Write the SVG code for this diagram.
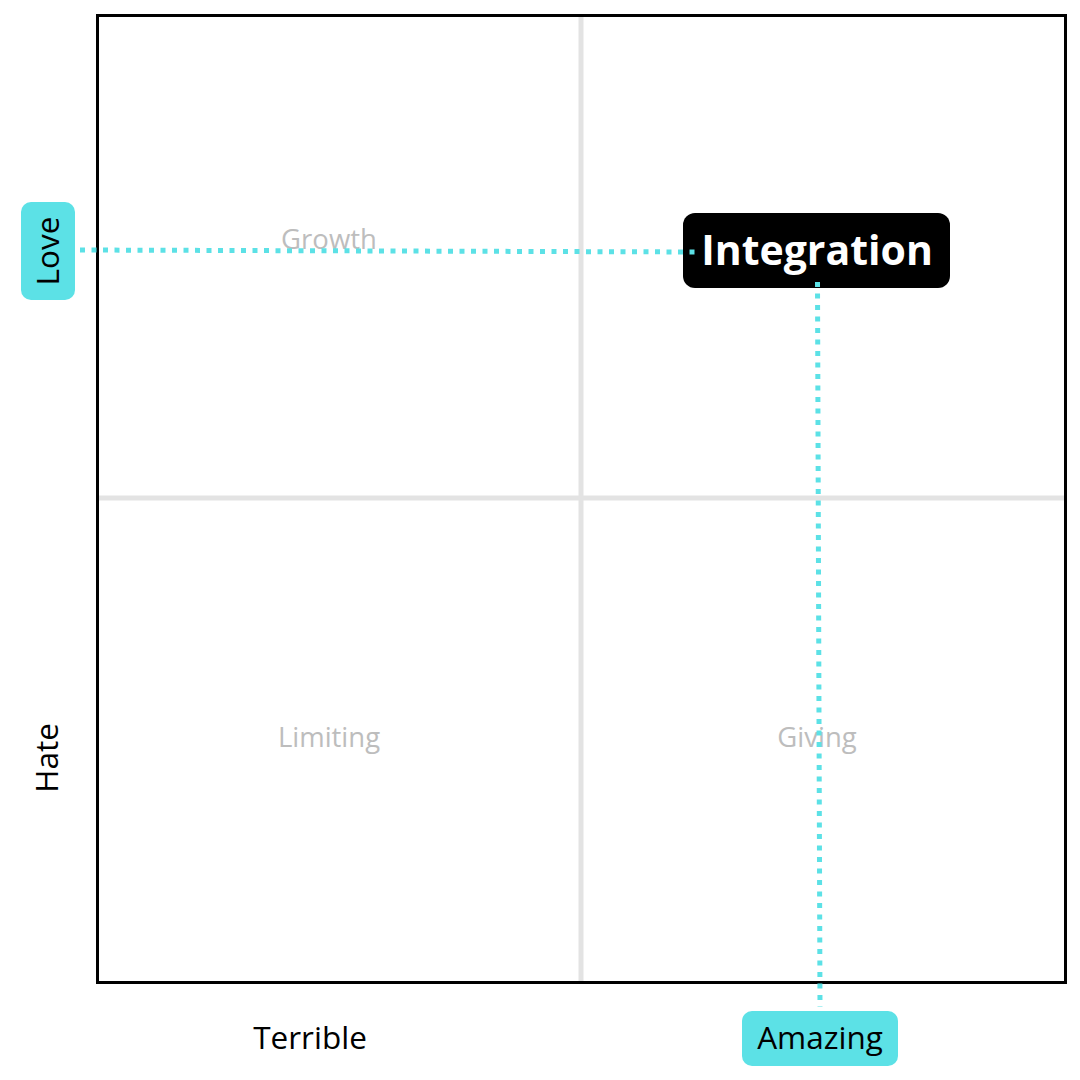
<svg xmlns="http://www.w3.org/2000/svg" width="1080" height="1080" viewBox="0 0 1080 1080">
<style>
.grid{stroke:#e3e3e3;stroke-width:5;fill:none}
.q{font-family:"Open Sans",Lato,sans-serif;font-size:27.5px;fill:#bdbdbd;text-anchor:middle}
.ax{font-family:"Open Sans",Lato,sans-serif;font-size:31.5px;fill:#000;text-anchor:middle}
.tag{fill:#5ce1e6}
.dot{stroke:#5ce1e6;stroke-width:5;stroke-dasharray:5 6.5;fill:none}
</style>
<rect width="1080" height="1080" fill="#fff"/>
<g id="grid">
<line class="grid" x1="581" y1="16" x2="581" y2="982"/>
<line class="grid" x1="98" y1="498" x2="1065" y2="498"/>
</g>
<rect id="frame" x="97.5" y="15.5" width="968" height="967" fill="none" stroke="#000" stroke-width="3"/>
<g id="quadrants">
<text class="q" x="329" y="249">Growth</text>
<text class="q" x="329" y="747">Limiting</text>
<text class="q" x="817" y="747">Giving</text>
</g>
<g id="node-integration">
<rect x="683" y="213" width="267" height="75" rx="12" fill="#000"/>
<text x="817" y="265" font-family="'Open Sans',Lato,sans-serif" font-size="41" font-weight="bold" fill="#fff" text-anchor="middle">Integration</text>
</g>
<g id="node-love">
<rect class="tag" x="21" y="202" width="54" height="98" rx="10"/>
<text class="ax" transform="translate(59,251) rotate(-90)" x="0" y="0">Love</text>
</g>
<g id="node-hate">
<text class="ax" transform="translate(58,758) rotate(-90)" x="0" y="0">Hate</text>
</g>
<g id="node-terrible">
<text class="ax" x="310" y="1049">Terrible</text>
</g>
<g id="node-amazing">
<rect class="tag" x="742" y="1011" width="156" height="55" rx="10"/>
<text class="ax" x="820" y="1049">Amazing</text>
</g>
<g id="connectors">
<line class="dot" x1="80" y1="250" x2="699" y2="252"/>
<line class="dot" x1="817.5" y1="282" x2="820" y2="1007"/>
</g>
</svg>
